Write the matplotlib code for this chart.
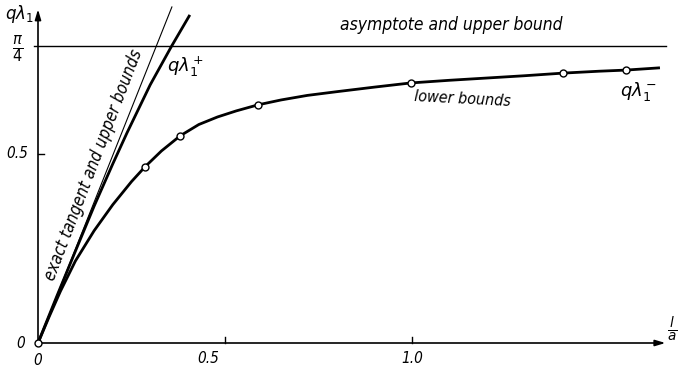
import matplotlib
matplotlib.use("Agg")
import matplotlib.pyplot as plt
import numpy as np

# lower bounds curve q*lambda_1^-
lower_x = [0.0, 0.03, 0.06, 0.1, 0.15, 0.2, 0.25, 0.286, 0.33, 0.38, 0.43, 0.48, 0.53,
           0.588, 0.65, 0.72, 0.8, 0.9, 0.997, 1.1, 1.2, 1.3, 1.404, 1.5, 1.572, 1.663]
lower_y = [0.0, 0.07, 0.137, 0.217, 0.297, 0.366, 0.427, 0.466, 0.508, 0.548, 0.578, 0.598, 0.614,
           0.630, 0.643, 0.655, 0.665, 0.677, 0.688, 0.695, 0.701, 0.707, 0.714, 0.719, 0.722, 0.728]
# computed points (open circles)
pts_x = [0.0, 0.286, 0.38, 0.588, 0.997, 1.404, 1.572]
pts_y = [0.0, 0.466, 0.548, 0.630, 0.688, 0.714, 0.722]
# upper curve q*lambda_1^+
upper_x = [0.0, 0.05, 0.1, 0.15, 0.2, 0.238, 0.3, 0.357, 0.406]
upper_y = [0.0, 0.123, 0.243, 0.362, 0.474, 0.556, 0.683, 0.785, 0.868]
# exact tangent
tangent_x = [0.0, 0.358]
tangent_y = [0.0, 0.889]
asym = np.pi / 4

fig = plt.figure(figsize=(6.78, 3.66), dpi=100)
ax = fig.add_axes([0, 0, 1, 1])
ax.set_xlim(-38/374, (678-38)/374)
ax.set_ylim(-23/378, (366-23)/378)
ax.axis("off")

fs = dict(style="italic", fontstretch="condensed", family="DejaVu Sans")

# axes with arrows
ax.annotate("", xy=(1.685, 0), xytext=(0, 0),
            arrowprops=dict(arrowstyle="-|>,head_length=0.6,head_width=0.18", lw=1.2, color="black"))
ax.annotate("", xy=(0, 0.89), xytext=(0, 0),
            arrowprops=dict(arrowstyle="-|>,head_length=0.6,head_width=0.18", lw=1.2, color="black"))
# ticks
ax.plot([0.5, 0.5], [0, 0.015], color="black", lw=1)
ax.plot([1.0, 1.0], [0, 0.015], color="black", lw=1)
ax.plot([0, 0.015], [0.5, 0.5], color="black", lw=1)

# asymptote
ax.plot([-0.01, 1.68], [asym, asym], color="black", lw=1.0)
# tangent
ax.plot(tangent_x, tangent_y, color="black", lw=0.8)
# upper curve
ax.plot(upper_x, upper_y, color="black", lw=2.0, solid_capstyle="butt")
# lower curve
ax.plot(lower_x, lower_y, color="black", lw=2.0, solid_capstyle="butt", solid_joinstyle="round")
ax.plot(pts_x, pts_y, "o", ms=5, mfc="white", mec="black", mew=1.0, zorder=5)

# labels
ax.text(-0.045, -0.002, "0", ha="center", va="center", fontsize=11, **fs)
ax.text(0.0, -0.045, "0", ha="center", va="center", fontsize=11, **fs)
ax.text(0.455, -0.04, "0.5", ha="center", va="center", fontsize=11, **fs)
ax.text(1.0, -0.04, "1.0", ha="center", va="center", fontsize=11, **fs)
ax.text(-0.055, 0.5, "0.5", ha="center", va="center", fontsize=11, **fs)
ax.text(-0.054, 0.778, r"$\frac{\pi}{4}$", ha="center", va="center", fontsize=15)
ax.text(-0.05, 0.87, r"$q\lambda_1$", ha="center", va="center", fontsize=12)
ax.text(1.697, 0.035, r"$\frac{l}{a}$", ha="center", va="center", fontsize=14)

ax.text(1.105, 0.84, "asymptote and upper bound", ha="center", va="center", fontsize=12.5, **fs)
ax.text(1.135, 0.645, "lower bounds", ha="center", va="center", fontsize=11.5, rotation=-3, **fs)
ax.text(0.395, 0.73, r"$q\lambda_1^+$", ha="center", va="center", fontsize=13)
ax.text(1.605, 0.665, r"$q\lambda_1^-$", ha="center", va="center", fontsize=13)
ax.text(0.148, 0.47, "exact tangent and upper bounds", ha="center", va="center",
        fontsize=12, rotation=69, rotation_mode="anchor", **fs)

fig.savefig("out.png", dpi=100)
